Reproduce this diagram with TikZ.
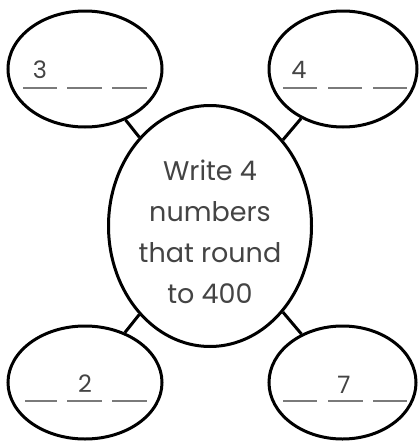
\documentclass[tikz,border=0pt]{standalone}
\usepackage{fontspec}
\setmainfont{Poppins}
\usetikzlibrary{shapes.geometric}
\definecolor{txt}{HTML}{444444}
\definecolor{dsh}{HTML}{7A7A7A}
\begin{document}
\begin{tikzpicture}[x=1pt,y=-1pt,
  bubble/.style={draw=black,line width=3pt,ellipse,inner sep=0pt,fill=white},
  digit/.style={text=txt,font=\fontsize{24}{24}\selectfont,inner sep=0pt,anchor=base},
  blank/.style={draw=dsh,line width=2.2pt},
  link/.style={draw=black,line width=3pt}]
\useasboundingbox (0,0) rectangle (420,442);
\fill[white] (0,0) rectangle (420,442);
\node[bubble,minimum width=154pt,minimum height=116pt] (tl) at (85,69) {};
\node[bubble,minimum width=148pt,minimum height=116pt] (tr) at (343,69) {};
\node[bubble,minimum width=154pt,minimum height=113pt] (bl) at (85,382.5) {};
\node[bubble,minimum width=147pt,minimum height=113pt] (br) at (342.5,382.5) {};
\node[bubble,minimum width=203pt,minimum height=241pt] (c) at (210,226) {};
\node[text=txt,align=center,inner sep=0pt,
  font=\fontsize{27}{41}\selectfont] (ct) at (210,232)
  {Write 4\\numbers\\that round\\to 400};
\draw[link] (tl) -- (c);
\draw[link] (tr) -- (c);
\draw[link] (bl) -- (c);
\draw[link] (br) -- (c);
% top-left
\node[digit] (d3) at (40,78) {3};
\draw[blank] (23,88) -- (57,88) (67,88) -- (102,88) (112,88) -- (147,88);
% top-right
\node[digit] (d4) at (299,78) {4};
\draw[blank] (283,88) -- (317,88) (328,88) -- (362,88) (373,88) -- (407,88);
% bottom-left
\node[digit] (d2) at (85,392) {2};
\draw[blank] (25,401) -- (57,401) (67,401) -- (102,401) (112,401) -- (147,401);
% bottom-right
\node[digit] (d7) at (344,393) {7};
\draw[blank] (283,401) -- (317,401) (328,401) -- (363,401) (373,401) -- (407,401);
\end{tikzpicture}
\end{document}
